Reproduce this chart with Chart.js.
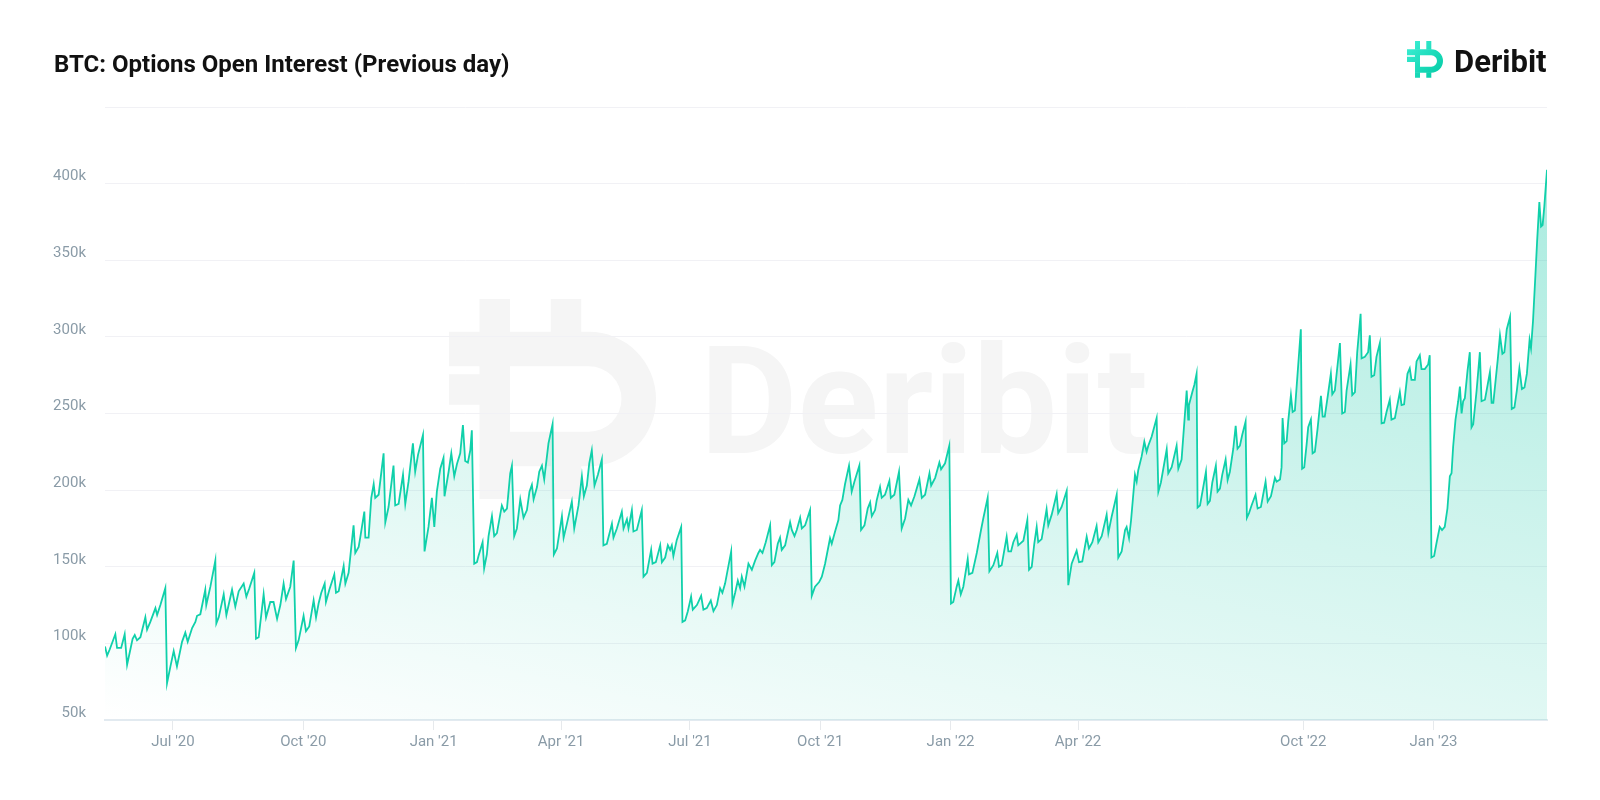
<!DOCTYPE html>
<html>
<head>
<meta charset="utf-8">
<script src="https://cdn.jsdelivr.net/npm/chart.js@4.4.1/dist/chart.umd.min.js"></script>
<style>
  html, body { margin: 0; padding: 0; background: #ffffff; }
  #wrap { width: 1600px; height: 800px; position: relative; }
  canvas { display: block; }
</style>
</head>
<body>
<div id="wrap"><canvas id="c" width="1600" height="800"></canvas></div>
<script>
// ---- Data (ordinal day index, open interest in thousands) ----
const dayIndex = [
0,1.5,3.3,7.3,8.5,11.4,13.9,15.6,17.9,19.5,21,22.6,25,28.5,29.7,32,35.6,36.8,39.1,42.6,
43.8,46.2,48.5,50.8,54.4,56.7,58.4,61.5,63.8,65,67.3,70.8,71.5,74.4,77.9,78.6,80.3,83.8,85.7,89.7,
92,94.4,97.9,99.8,101.9,105.4,106.6,108.5,112,113.7,116.7,119,121.5,123.8,126.1,127.8,130.8,133.2,
134.8,136.7,140.2,141.9,144.2,147.3,149,150.8,152.7,155.1,156,158.4,161.9,163.1,165,168.5,169.7,172,
175.5,176.7,179.1,180.2,183.1,183.8,186.1,188,189.7,190.8,193.2,196.7,197.9,200.2,203.7,204.9,207.3,
210.4,212,214.3,217.4,219,221,224.5,225.6,228.4,230.8,232.5,234.3,236.7,239,239.7,242.6,244.5,246.6,
248.5,250.8,252.7,254.3,256.2,257.9,259,260.7,
262.6,263.7,266.6,267.7,269.6,270.8,273.2,274.8,276.7,280.2,281.9,283.8,286.1,287.3,288.9,290.8,293.2,
295.5,297.9,299.7,301.4,302.6,305,306.6,308.5,310.1,313.1,316,316.9,319.1,322.6,323.8,326.1,329.6,331.3,
334.3,336.7,338.1,340.2,341.9,343.7,345.6,348,350.8,351.9,354.3,357.9,359,361.4,364.9,366.1,368.5,369.6,
372,373.1,375.5,379,380.2,382.6,
385.6,386.6,388.9,392,393.2,395.5,397.4,399,400.2,401.3,403.7,406.8,407.7,409.6,411.5,413.8,415,417.9,
420.9,422.5,424.9,427.7,429.6,432,434.3,435.9,437.8,442.1,443,444.9,446.8,448.4,449.6,451.5,454.3,456.7,
459,461.3,462.5,464.2,466.5,469.6,470.8,472.6,475,476.6,477.8,480.2,483.7,484.9,486.8,488.4,490.8,492,
494.3,497.8,499,501.3,504.2,506.1,508.4,511.9,513.1,
515.4,517.8,519,520.6,522.5,525.3,527.2,529.1,532.6,533.8,536.2,538.5,540.2,541.4,543.7,544.9,547.2,
548.4,550.7,553.8,554.8,557.3,560.6,562.5,564.9,567.2,569.1,571.5,575,576.7,579,582.1,583.3,586.1,589.1,
590.3,593.1,596.1,597.3,598.9,601.3,602.5,604.2,606,609.1,610,612.4,615.5,618.5,620.2,623.2,624.4,627.2,
630,631.2,633.1,636.6,637.8,639.7,
641.3,643.7,644.8,648.4,651.2,652.4,654.3,656.1,657.8,658.9,661.3,664.8,666,668.4,671.9,673,675.4,679,
680.1,682.5,686,687.7,690,693.1,694.7,697.1,700.1,701.3,703.7,707.2,708.4,710.8,714.3,715.4,717.8,720.2,
721.3,723,724.4,727.2,728.4,729.5,731.9,733.8,735.4,736.6,739,742.5,743.7,745.5,749.6,750.7,753.1,756.6,
757.8,760.1,763.7,764.8,
765.3,767.7,769.1,770.7,771.4,773.1,775.4,777.3,778.5,780.1,781.8,784.3,785.5,787.2,788.8,791.2,792.6,
794.2,796.6,798.3,799.6,801.3,802.9,805.3,806.2,807.7,809.5,812.3,813.8,816.1,817.3,819.4,820.9,823.2,
826,827.2,829.6,830.7,831.4,832.6,834.3,835.4,837.3,838.5,840.1,844.3,845.2,846.7,848.4,849.5,851.4,
852.6,854.2,856.1,858.5,859.7,861.2,863.1,865.5,866.5,868.3,871.9,873.5,875.4,876.6,879.4,880.6,882.5,
884.1,886.5,887.2,889.5,
891.8,893,894.2,896.1,897.7,900.1,901.3,903.1,904.8,907.1,908.3,910.7,914.2,915.4,917.2,919.6,921.2,
922.4,924.8,926,928.3,929.5,931.8,934.2,935.3,936.5,938.4,940,942.4,944,945.9,947.8,949.5,950.7,951.8,
953.5,955.4,956.6,957.8,958.9,960.1,962,963.6,964.8,966,968.4,970.7,971.9,974.3,977.8,979,980.2,983.3,
984.9,986.6,988,989.7,992,993.2,995.1,996.8,998.6,1000.4,1002.2,1003.9,1005.8,1006.8,1008.2,1009.9,
1011.1,1012.7,1013.9,1015,1016.2,1018.1
];
const openInterestK = [
98,92,96,106,97,97,106,86,96,103,105.5,102,104,117,109,114,123,118.5,125,136,
74,85,95,85,101,107,101,110,114,118,119,135,125,137,154,113,117,132,118.5,135,
124,134,139,130.5,136,146,103,104,132,117,127,127,116,125,139,129,137,154,
97,102,118,108,111,128,117,126,133,139,127,135,145,133,134,150.5,139,146,
177,159,163,169,186,169,169,195,204,195,197,224,179,189,216,190,191,
210,191,205.5,230.5,212,223,236,160,176,195,176,199,214,221,196,212,224,209,
217,224,242.5,219,218,226,239,152,
153,157,166,149,158,170,183,170,172,190,186,188,211,216,170,175,194,
182,187,199,203.5,194,202,212,216,207,230.5,243,158,162,183,169,178,192.5,175,
190,209,196,203,217.5,226,203,210,220,164,165,178,169,175,186,175,181,175,
187,173,174,187,143.5,146,
161,152,153,164,153,156,164,161,164,157,167.5,176,114,115,121,130.5,122,125,
131,122,123,128,121,125,136,133,139,160,126,133,141,136,143.5,137,152,148,
154,159,161,159,166,177,151,153,165,169,161,164,179,174,170,174,182,175,
177,187,131,137,140,143.5,152,168.6,165,
172.9,180.5,190,193.6,204,216,199,205.5,216,174,177,188,192,183,187,193.6,202,
195,197,206,195,197,212,175,181.5,193.6,190,196,207,195,197,211,203,208,218,
213.6,217.5,229,126,127,137,141,132,137,155,145,146,159,174,182,195,147,151,
159,150,151,169.6,160,160,
166,171,164,167,180.5,148,150,165,176,166,168,187.5,177,184,197.5,185,189,199.6,
138,152,160.5,153,153.5,169.6,162,166,176.6,166,170,184,172,183,197,156,160,174,
176,168.6,180,210,205.5,213,222,231.6,225,229,235,247,199,205,226.6,211,215,229,
214,220,265,246,
255.5,264,268.6,276,188.6,190,202,212,191,193,205,216,199,201,210,220,206.6,
212,227,242,227,229,236,244.7,182,185,190,197,188,189,195,205.5,192.5,196,
208,205.5,207,215,247,230.5,232,245,262,251,252,305,214,215,230,241,246,
224,225,240,261.6,248,248,260,276,262.5,265,296,250,251,265,282,262,264,
290,315,286,287,
290,301,274,275,287,296,243.6,244,251,259,246,247,264,255.5,256,276,279.5,
272,272,284,288,279,279,282,288,156,157,165,176,174,176,188,209,211,228,
246,258,267.5,250,258,260,278,290,241,243,265,290,258,259,277,257,257,285,
301,289,290,305,313,253,254,265,279.5,266,267,276,298,292.5,310,340,
362,388,372,373,385,409
];
const tickIndex = [48, 140, 232, 322, 413, 505, 597, 687, 846, 938];
const tickLabels = ["Jul '20", "Oct '20", "Jan '21", "Apr '21", "Jul '21", "Oct '21", "Jan '22", "Apr '22", "Oct '22", "Jan '23"];
const yTickValues = [50, 100, 150, 200, 250, 300, 350, 400, 450];

const titleText = 'BTC: Options Open Interest (Previous day)';
const brandText = 'Deribit';

// ---- Deribit mark helper ----
function drawMark(ctx, x0, yTop, s, stubTop, stubBot, stemX, stub2X, bw) {
  const yB = yTop + stubTop * s;
  ctx.beginPath();
  const R = (x, y, w, h) => ctx.rect(x0 + x * s, yB + y * s, w * s, h * s);
  R(stemX, -stubTop, bw, stubTop + 0.5);
  R(stub2X, -stubTop, bw, stubTop + 0.5);
  R(stemX, 23, bw, stubBot + 0.4);
  R(stub2X, 23, bw, stubBot + 0.4);
  ctx.fill();
  const sx = stemX + bw;
  ctx.beginPath();
  ctx.moveTo(x0, yB);
  ctx.lineTo(x0 + 24.3 * s, yB);
  ctx.arc(x0 + 24.3 * s, yB + 11.7 * s, 11.7 * s, -Math.PI / 2, Math.PI / 2, false);
  ctx.lineTo(x0 + stemX * s, yB + 23.4 * s);
  ctx.lineTo(x0 + stemX * s, yB + 12.7 * s);
  ctx.lineTo(x0, yB + 12.7 * s);
  ctx.lineTo(x0, yB + 7.4 * s);
  ctx.lineTo(x0 + stemX * s, yB + 7.4 * s);
  ctx.lineTo(x0 + stemX * s, yB + 6 * s);
  ctx.lineTo(x0, yB + 6 * s);
  ctx.closePath();
  ctx.moveTo(x0 + sx * s, yB + 6 * s);
  ctx.lineTo(x0 + sx * s, yB + 17.4 * s);
  ctx.lineTo(x0 + 24.3 * s, yB + 17.4 * s);
  ctx.arc(x0 + 24.3 * s, yB + 11.7 * s, 5.7 * s, Math.PI / 2, -Math.PI / 2, true);
  ctx.closePath();
  ctx.fill('evenodd');
}

const decorPlugin = {
  id: 'decor',
  beforeDraw(chart) {
    const ctx = chart.ctx;
    ctx.save();
    ctx.fillStyle = '#ffffff';
    ctx.fillRect(0, 0, chart.width, chart.height);
    ctx.fillStyle = '#f5f5f5';
    drawMark(ctx, 449, 299, 5.75, 5.7, 5.7, 5.3, 17.7, 5.3);
    ctx.font = 'bold 150px Roboto';
    ctx.textBaseline = 'alphabetic';
    ctx.fillText(brandText, 700, 453);
    ctx.restore();
  },
  afterDraw(chart) {
    const ctx = chart.ctx;
    ctx.save();
    ctx.fillStyle = '#111111';
    ctx.font = 'bold 24px Roboto';
    ctx.textBaseline = 'alphabetic';
    ctx.fillText(titleText, 54, 72);
    ctx.font = 'bold 31px Roboto';
    ctx.fillText(brandText, 1454, 72);
    const g = ctx.createLinearGradient(1407, 41, 1443, 78);
    g.addColorStop(0, '#3ff0d6');
    g.addColorStop(1, '#00c9a2');
    ctx.fillStyle = g;
    drawMark(ctx, 1407, 41, 1, 8.3, 5, 8, 19.3, 5);
    ctx.restore();
  }
};

const points = dayIndex.map((x, i) => ({ x: x, y: openInterestK[i] }));

new Chart(document.getElementById('c'), {
  type: 'line',
  data: {
    datasets: [{
      data: points,
      borderColor: '#10d0aa',
      borderWidth: 1.8,
      pointRadius: 0,
      tension: 0,
      fill: 'start',
      backgroundColor(context) {
        const ca = context.chart.chartArea;
        if (!ca) return 'rgba(0,196,160,0.1)';
        const g = context.chart.ctx.createLinearGradient(ca.left, ca.bottom, ca.left + 208, ca.bottom - 978);
        g.addColorStop(0, 'rgba(0,196,160,0)');
        g.addColorStop(1, 'rgba(0,196,160,0.4)');
        return g;
      }
    }]
  },
  options: {
    responsive: false,
    animation: false,
    devicePixelRatio: 1,
    layout: { padding: { left: 0, right: 53, top: 107, bottom: 0 } },
    plugins: { legend: { display: false }, tooltip: { enabled: false }, title: { display: false } },
    scales: {
      x: {
        type: 'linear',
        min: 0,
        max: dayIndex[dayIndex.length - 1],
        afterBuildTicks(axis) { axis.ticks = tickIndex.map(v => ({ value: v })); },
        afterFit(axis) { axis.height = 80; },
        ticks: {
          autoSkip: false,
          maxRotation: 0,
          padding: 3,
          color: '#8a9ba7',
          font: { family: 'Roboto', size: 15 },
          callback(value) { const k = tickIndex.indexOf(value); return k >= 0 ? tickLabels[k] : ''; }
        },
        grid: { drawOnChartArea: false, drawTicks: true, tickLength: 10, color: '#e6e9ec' },
        border: { display: true, color: '#e2eaf0', width: 2 }
      },
      y: {
        type: 'linear',
        min: 50,
        max: 450,
        afterBuildTicks(axis) { axis.ticks = yTickValues.map(v => ({ value: v })); },
        afterFit(axis) { axis.width = 105; },
        ticks: {
          padding: 19,
          labelOffset: -7,
          color: '#8a9ba7',
          font: { family: 'Roboto', size: 15 },
          callback(value) { return value === 450 ? '' : value + 'k'; }
        },
        grid: { color: '#f1f1f5', drawTicks: false, lineWidth: 1 },
        border: { display: false }
      }
    }
  },
  plugins: [decorPlugin]
});
</script>
</body>
</html>
